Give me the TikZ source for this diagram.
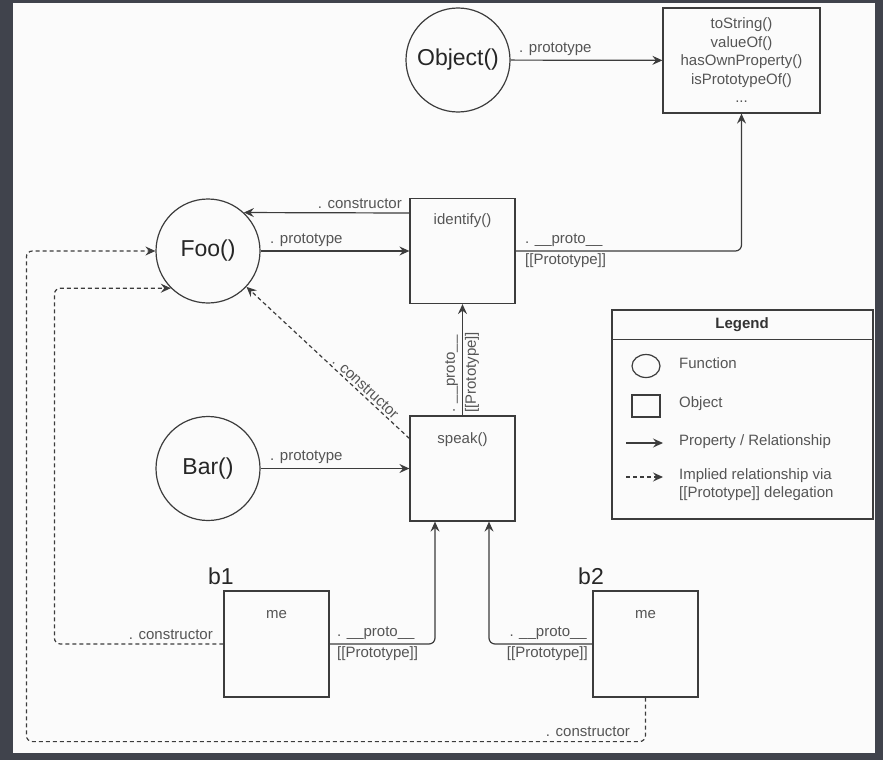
\documentclass[tikz,border=0pt]{standalone}
\usepackage{fontspec}
\setmainfont{Liberation Sans}
\usetikzlibrary{arrows.meta,shapes.geometric}
\definecolor{slate}{HTML}{40434C}
\definecolor{paper}{HTML}{FBFBFB}
\definecolor{ink}{HTML}{3C3C3C}
\definecolor{lbltext}{HTML}{555555}
\begin{document}
\begin{tikzpicture}[x=1pt,y=-1pt,
  fn/.style={draw=ink,line width=1.2pt,circle,minimum size=104pt,inner sep=0pt,text=black!85,font=\fontsize{23}{27}\selectfont},
  obj/.style={draw=ink,line width=1.2pt,minimum width=105pt,minimum height=105pt,inner sep=0pt},
  objtext/.style={text=lbltext,font=\fontsize{15}{18.5}\selectfont,inner sep=0pt},
  lbl/.style={text=lbltext,font=\fontsize{15}{18}\selectfont,inner sep=2pt},
  prop/.style={draw=ink,line width=1.2pt,rounded corners=6pt,-{Stealth[length=10pt,width=9pt,inset=3.5pt]}},
  implied/.style={prop,dash pattern=on 4pt off 3pt}]
% Background
\fill[slate] (0,0) rectangle (883,760);
\fill[paper] (13,3) rectangle (875,753);
% Functions
\node[fn] (object) at (458,60) {Object()};
\node[fn] (foo) at (208,251) {Foo()};
\node[fn] (bar) at (208,468.5) {Bar()};
% Objects
\node[obj,objtext,minimum width=157pt,align=center] (objproto) at (741.5,60.5) {toString()\\valueOf()\\hasOwnProperty()\\isPrototypeOf()\\...};
\node[obj] (identify) at (462.5,251) {};
\node[objtext] (identify-t) at ([yshift=-23pt]identify.north) {identify()};
\node[obj] (speak) at (462.5,468.5) {};
\node[objtext] (speak-t) at ([yshift=-24pt]speak.north) {speak()};
\node[obj,minimum height=106pt] (b1) at (276.5,644) {};
\node[objtext] (b1-t) at ([yshift=-24pt]b1.north) {me};
\node[obj,minimum height=106pt] (b2) at (645.5,644) {};
\node[objtext] (b2-t) at ([yshift=-24pt]b2.north) {me};
\node[text=black!85,font=\fontsize{23}{27}\selectfont] (b1-name) at (221,576) {b1};
\node[text=black!85,font=\fontsize{23}{27}\selectfont] (b2-name) at (591,576) {b2};
% Object() and its prototype
\draw[prop] (object) -- node[lbl,pos=0,anchor=south west,xshift=6pt,yshift=2pt] {. prototype} (objproto);
% Foo() and identify()
\draw[prop] ([yshift=38pt]identify.west) -- node[lbl,pos=0,anchor=south east,xshift=-5pt,yshift=2pt] {. constructor} (foo.47);
\draw[prop] (foo) -- node[lbl,pos=0,anchor=south west,xshift=7pt,yshift=2pt] {. prototype} (identify);
\draw[prop] (identify) -| node[lbl,pos=0,anchor=south west,xshift=7pt,yshift=2pt] {. \_\_proto\_\_} node[lbl,pos=0,anchor=north west,xshift=7pt] {[[Prototype]]} (objproto);
% speak() delegates to identify()
\draw[prop] (speak) -- node[lbl,pos=0,rotate=90,anchor=south west,yshift=2pt] {. \_\_proto\_\_} node[lbl,pos=0,rotate=90,anchor=north west] {[[Prototype]]} (identify);
\draw[implied] ([yshift=30pt]speak.west) -- node[lbl,sloped,above,pos=0.3] {. constructor} (foo);
% Bar()
\draw[prop] (bar) -- node[lbl,pos=0,anchor=south west,xshift=7pt,yshift=2pt] {. prototype} (speak);
% b1 and b2
\draw[prop] (b1) -| node[lbl,pos=0,anchor=south west,xshift=5pt,yshift=2pt] {. \_\_proto\_\_} node[lbl,pos=0,anchor=north west,xshift=5pt] {[[Prototype]]} ([xshift=-27.5pt]speak.south);
\draw[prop] (b2) -| node[lbl,pos=0,anchor=south east,xshift=-3pt,yshift=2pt] {. \_\_proto\_\_} node[lbl,pos=0,anchor=north east,xshift=-2pt] {[[Prototype]]} ([xshift=26.5pt]speak.south);
\draw[implied] (b1.west) -- node[lbl,pos=0,anchor=south east,xshift=-8pt,yshift=2pt] {. constructor} ++(-169,0) |- (foo.225);
\draw[implied] (b2.south) -- ++(0,44) -| node[lbl,pos=0,anchor=south east,xshift=-13pt,yshift=2pt] {. constructor} ([xshift=-129pt]foo.west) -- (foo.west);
% Legend
\node[draw=ink,line width=1.2pt,minimum width=261pt,minimum height=209pt] (legend) at (742.5,414.5) {};
\draw[ink,line width=1.2pt] ([yshift=-30pt]legend.north west) -- ([yshift=-30pt]legend.north east);
\node[lbl,text=black!80,font=\fontsize{15}{18}\selectfont\bfseries] (legend-t) at (742,325) {Legend};
\node[draw=ink,line width=1.2pt,ellipse,minimum width=28pt,minimum height=23pt] (key-fn) at (646,366) {};
\node[draw=ink,line width=1.2pt,minimum width=28pt,minimum height=22pt] (key-obj) at (646,406) {};
\coordinate (key-prop) at (626,443);
\draw[prop] (key-prop) -- ++(37,0);
\coordinate (key-impl) at (626,477);
\draw[implied] (key-impl) -- ++(37,0);
\node[lbl,anchor=west] (key-fn-t) at (677,363) {Function};
\node[lbl,anchor=west] (key-obj-t) at (677,404) {Object};
\node[lbl,anchor=west] (key-prop-t) at (677,442) {Property / Relationship};
\node[lbl,anchor=west,align=left] (key-impl-t) at (677,485) {Implied relationship via\\{}[[Prototype]] delegation};
\end{tikzpicture}
\end{document}
